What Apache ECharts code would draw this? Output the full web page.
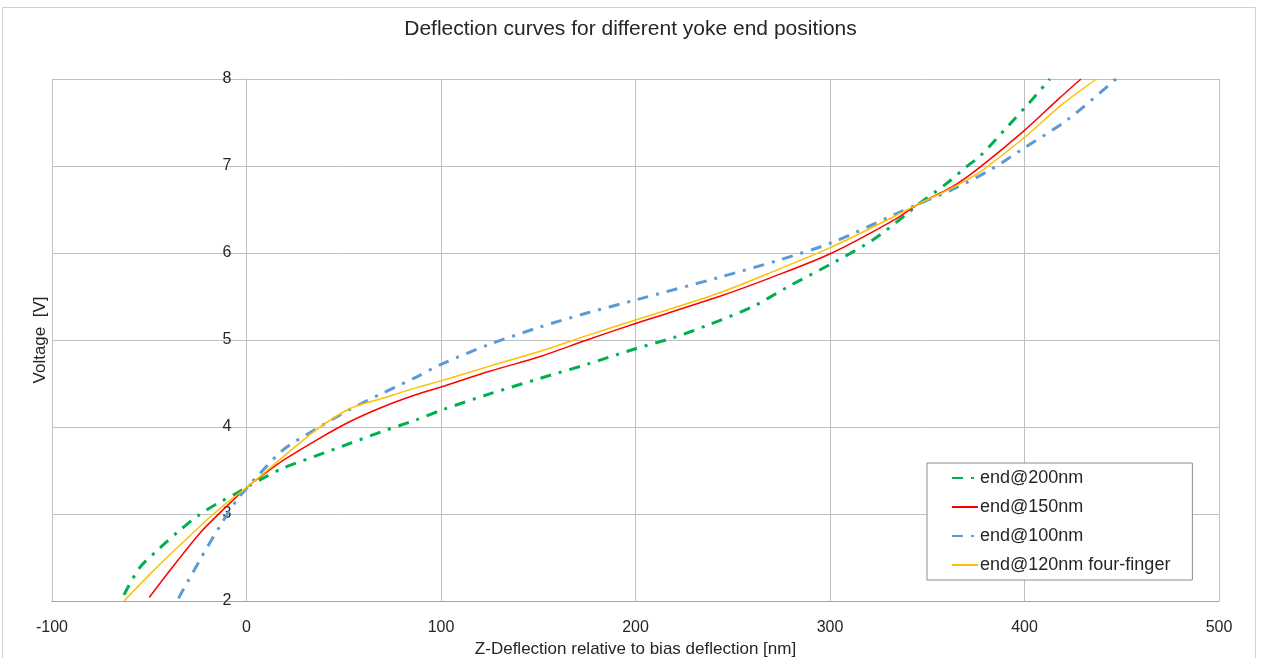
<!DOCTYPE html>
<html>
<head>
<meta charset="utf-8">
<script src="https://cdn.jsdelivr.net/npm/echarts@6/dist/echarts.min.js"></script>
<style>
html,body{margin:0;padding:0;background:#fff;}
#chart{width:1261px;height:658px;}
</style>
</head>
<body>
<div id="chart"></div>
<script>
const seriesNames = ['end@200nm', 'end@150nm', 'end@100nm', 'end@120nm four-finger'];
const xTicks = [-100, 0, 100, 200, 300, 400, 500];
const yTicks = [2, 3, 4, 5, 6, 7, 8];

const end200_x = [-63, -55, -45, -35, -25, -15, -5, 1, 10, 19, 36, 53, 70, 87, 101, 125, 151, 175, 200, 220, 237, 260, 279, 301, 322, 339, 346, 360, 370, 377, 392, 403, 413];
const end200_y = [2.07, 2.38, 2.60, 2.80, 2.98, 3.12, 3.24, 3.32, 3.43, 3.53, 3.67, 3.81, 3.95, 4.08, 4.20, 4.38, 4.56, 4.72, 4.90, 5.03, 5.17, 5.38, 5.62, 5.88, 6.15, 6.44, 6.57, 6.80, 6.99, 7.11, 7.47, 7.74, 8.0];

const end150_x = [-50, -38, -24, -12, 1, 14, 19, 36, 53, 70, 87, 100, 125, 151, 175, 200, 243, 270, 301, 333, 346, 362, 375, 400, 417, 429];
const end150_y = [2.04, 2.39, 2.78, 3.05, 3.32, 3.54, 3.62, 3.85, 4.06, 4.23, 4.37, 4.46, 4.64, 4.81, 5.00, 5.19, 5.50, 5.72, 6.00, 6.38, 6.57, 6.75, 6.95, 7.41, 7.76, 8.0];

const end100_x = [-35, -24, -14, -5, 1, 5, 19, 36, 53, 70, 87, 100, 125, 151, 175, 200, 243, 274, 301, 333, 346, 362, 382, 400, 422, 447];
const end100_y = [2.03, 2.47, 2.85, 3.16, 3.32, 3.42, 3.74, 3.98, 4.20, 4.39, 4.57, 4.72, 4.95, 5.15, 5.31, 5.46, 5.72, 5.92, 6.12, 6.44, 6.57, 6.72, 6.95, 7.21, 7.53, 8.0];

const end120ff_x = [-63, -50, -40, -30, -20, -10, 1, 19, 36, 53, 70, 87, 100, 125, 151, 175, 200, 243, 270, 301, 333, 346, 362, 377, 400, 420, 437];
const end120ff_y = [2.0, 2.30, 2.52, 2.73, 2.94, 3.13, 3.32, 3.66, 3.97, 4.21, 4.33, 4.45, 4.53, 4.70, 4.87, 5.05, 5.23, 5.54, 5.78, 6.07, 6.42, 6.57, 6.74, 6.93, 7.33, 7.72, 8.0];

function pairs(xs, ys) { return xs.map((x, i) => [x, ys[i]]); }

const chart = echarts.init(document.getElementById('chart'));
const textColor = '#262626';
const gridColor = '#bfbfbf';
const dashDot = [11, 8, 3, 8];
const font = 'Liberation Sans';

chart.setOption({
  animation: false,
  backgroundColor: '#fff',
  title: {
    text: 'Deflection curves for different yoke end positions',
    left: 'center',
    top: 14,
    textStyle: { fontFamily: font, fontSize: 21, fontWeight: 'normal', color: textColor }
  },
  graphic: [{
    type: 'rect',
    shape: { x: 2.5, y: 7.5, width: 1253, height: 660 },
    style: { fill: 'none', stroke: '#d0d0d0', lineWidth: 1 },
    silent: true
  }],
  legend: {
    orient: 'vertical',
    left: 927,
    top: 463,
    padding: [6, 22, 6, 24],
    itemGap: 11,
    itemWidth: 26,
    itemHeight: 14,
    borderColor: '#8c8c8c',
    borderWidth: 1,
    backgroundColor: '#fff',
    itemStyle: { opacity: 0, color: 'transparent', borderWidth: 0 },
    textStyle: { fontFamily: font, fontSize: 18, color: textColor, padding: [0, 0, 0, -3] },
    data: seriesNames
  },
  grid: { left: 52, right: 42, top: 79, bottom: 57, containLabel: false, outerBoundsMode: 'none' },
  xAxis: {
    type: 'value',
    min: xTicks[0],
    max: xTicks[xTicks.length - 1],
    interval: 100,
    name: 'Z-Deflection relative to bias deflection [nm]',
    nameLocation: 'middle',
    nameGap: 39,
    nameTextStyle: { fontFamily: font, fontSize: 17, color: textColor },
    axisLine: { show: true, onZero: false, lineStyle: { color: '#a6a6a6', width: 1 } },
    axisTick: { show: false },
    axisLabel: { fontFamily: font, fontSize: 16, color: textColor, margin: 19 },
    splitLine: { show: true, lineStyle: { color: gridColor, width: 1 } }
  },
  yAxis: {
    type: 'value',
    position: 'left',
    offset: -194.5,
    min: yTicks[0],
    max: yTicks[yTicks.length - 1],
    interval: 1,
    name: 'Voltage  [V]',
    nameLocation: 'middle',
    nameGap: 198,
    nameRotate: 90,
    nameTextStyle: { fontFamily: font, fontSize: 17, color: textColor },
    axisLine: { show: true, onZero: false, lineStyle: { color: gridColor, width: 1 } },
    axisTick: { show: false },
    axisLabel: { fontFamily: font, fontSize: 16, color: textColor, margin: 15 },
    splitLine: { show: true, lineStyle: { color: gridColor, width: 1 } }
  },
  series: [
    {
      name: seriesNames[0], type: 'line', smooth: 0.3, symbol: 'none',
      data: pairs(end200_x, end200_y),
      lineStyle: { color: '#00b050', width: 3, type: dashDot },
      itemStyle: { color: '#00b050' }
    },
    {
      name: seriesNames[1], type: 'line', smooth: 0.3, symbol: 'none',
      data: pairs(end150_x, end150_y),
      lineStyle: { color: '#ff0000', width: 1.5 },
      itemStyle: { color: '#ff0000' }
    },
    {
      name: seriesNames[2], type: 'line', smooth: 0.3, symbol: 'none',
      data: pairs(end100_x, end100_y),
      lineStyle: { color: '#5b9bd5', width: 3, type: dashDot },
      itemStyle: { color: '#5b9bd5' }
    },
    {
      name: seriesNames[3], type: 'line', smooth: 0.3, symbol: 'none',
      data: pairs(end120ff_x, end120ff_y),
      lineStyle: { color: '#ffc000', width: 1.5 },
      itemStyle: { color: '#ffc000' }
    }
  ]
});
</script>
</body>
</html>
